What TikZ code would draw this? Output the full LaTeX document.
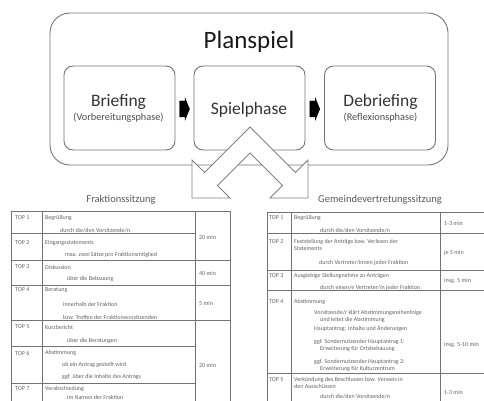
\documentclass[tikz,border=0pt]{standalone}
\usepackage{fontspec}
\setmainfont{Carlito}
\usetikzlibrary{calc}
\begin{document}
\begin{tikzpicture}[x=1pt,y=-1pt,
  outerbox/.style={draw=black!55, line width=0.9pt, rounded corners=20pt},
  phasebox/.style={draw=black!55, line width=0.9pt, rounded corners=9pt, minimum width=111pt, minimum height=84pt, inner sep=0pt},
  blockarrow/.style={fill=black, draw=black, line width=0.4pt, line join=miter},
  bigarrow/.style={draw=black!50, line width=0.8pt, fill=white, line join=miter},
  tline/.style={draw=black!55, line width=0.6pt},
  tt/.style={anchor=west, inner sep=0pt, font=\fontsize{6}{7}\selectfont, text=black!62, align=left},
  tcap/.style={inner sep=0pt, font=\fontsize{10.5}{12}\selectfont, text=black!65},
  phasetitle/.style={inner sep=0pt, font=\fontsize{17.5}{20}\selectfont, text=black!80},
  phasesub/.style={inner sep=0pt, font=\fontsize{10.3}{12}\selectfont, text=black!70}
]
\useasboundingbox (0,0) rectangle (484,401);
\clip (0,0) rectangle (484,401);

% top part
\draw[outerbox] (50,13) rectangle (448,165);
\node[inner sep=0pt, font=\fontsize{25}{28}\selectfont, text=black!90] (title) at (249,42) {Planspiel};

\node[phasebox] (brief) at (119.5,108) {};
\node[phasebox] (spiel) at (249.5,108) {};
\node[phasebox] (debrief) at (380,108) {};

\node[phasetitle] (brieft) at (118.5,102) {Briefing};
\node[phasesub] (briefs) at (118.5,118) {(Vorbereitungsphase)};
\node[phasetitle] (spielt) at (249,110) {Spielphase};
\node[phasetitle] (debrieft) at (380.5,102) {Debriefing};
\node[phasesub] (debriefs) at (380.5,118) {(Reflexionsphase)};

\coordinate (m1) at ($(brief.east)!0.5!(spiel.west)+(0,1)$);
\coordinate (m2) at ($(spiel.east)!0.5!(debrief.west)+(0,1)$);
\foreach \m in {m1,m2}{
  \draw[blockarrow] ($(\m)+(-5,-8)$) -- ($(\m)+(0.5,-8)$) -- ($(\m)+(0.5,-11)$)
    -- ($(\m)+(5,0)$) -- ($(\m)+(0.5,11)$) -- ($(\m)+(0.5,8)$) -- ($(\m)+(-5,8)$) -- cycle;
}

% double arrow
\draw[bigarrow] (250,127) -- (204.5,172.5) -- (192,160) -- (192,198) -- (230,198)
  -- (217.5,185.5) -- (250,153) -- (282.5,185.5) -- (270,198) -- (308,198)
  -- (308,160) -- (295.5,172.5) -- cycle;

% captions
\node[tcap] (capL) at (121,200) {Fraktionssitzung};
\node[tcap] (capR) at (380,200) {Gemeindevertretungssitzung};

% left table lines
\draw[tline] (11,401) -- (11,211) -- (230,211) -- (230,401);
\draw[tline] (42,211) -- (42,401);
\draw[tline] (195,211) -- (195,401);
\draw[tline] (11,233) -- (195,233);
\draw[tline] (11,260) -- (230,260);
\draw[tline] (11,285) -- (230,285);
\draw[tline] (11,320) -- (230,320);
\draw[tline] (11,346) -- (195,346);
\draw[tline] (11,383) -- (195,383);

% left table text
\node[tt] (l1a) at (15,218) {TOP 1};
\node[tt] (l1b) at (45,218) {Begrüßung};
\node[tt] (l1c) at (60,231) {durch die/den Vorsitzende/n};
\node[tt] (l2a) at (15,243) {TOP 2};
\node[tt] (l2b) at (45,243) {Eingangsstatements};
\node[tt] (l2c) at (65,255) {max. zwei Sätze pro Fraktionsmitglied};
\node[tt] (l3a) at (15,267) {TOP 3};
\node[tt] (l3b) at (45,267) {Diskussion};
\node[tt] (l3c) at (67,279) {über die Bebauung};
\node[tt] (l4a) at (15,290) {TOP 4};
\node[tt] (l4b) at (45,290) {Beratung};
\node[tt] (l4c) at (63,304) {innerhalb der Fraktion};
\node[tt] (l4d) at (63,317) {bzw. Treffen der Fraktionsvorsitzenden};
\node[tt] (l5a) at (15,327) {TOP 5};
\node[tt] (l5b) at (45,327) {Kurzbericht};
\node[tt] (l5c) at (67,341) {über die Beratungen};
\node[tt] (l6a) at (15,353) {TOP 6};
\node[tt] (l6b) at (45,353) {Abstimmung};
\node[tt] (l6c) at (62,365) {ob ein Antrag gestellt wird};
\node[tt] (l6d) at (62,377) {ggf. über die Inhalte des Antrags};
\node[tt] (l7a) at (15,389) {TOP 7};
\node[tt] (l7b) at (45,389) {Verabschiedung};
\node[tt] (l7c) at (67,397) {im Namen der Fraktion};
\node[tt] (lt1) at (199,237) {20 min};
\node[tt] (lt2) at (199,273) {40 min};
\node[tt] (lt3) at (199,303) {5 min};
\node[tt] (lt4) at (199,365) {20 min};

% right table lines
\draw[tline] (267,401) -- (267,212) -- (490,212);
\draw[tline] (291,212) -- (291,401);
\draw[tline] (440,212) -- (440,401);
\draw[tline] (267,233) -- (490,233);
\draw[tline] (267,270) -- (490,270);
\draw[tline] (267,290) -- (490,290);
\draw[tline] (267,373) -- (490,373);

% right table text
\node[tt] (r1a) at (269,218) {TOP 1};
\node[tt] (r1b) at (294,218) {Begrüßung};
\node[tt] (r1c) at (320,231) {durch die/den Vorsitzende/n};
\node[tt] (r2a) at (269,242) {TOP 2};
\node[tt, anchor=north west] (r2b) at (294,239) {Feststellung der Anträge bzw. Verlesen der\\Statements};
\node[tt] (r2c) at (319,263) {durch Vertreter/innen jeder Fraktion};
\node[tt] (r3a) at (269,276) {TOP 3};
\node[tt] (r3b) at (294,276) {Ausgiebige Stellungnahme zu Anträgen};
\node[tt] (r3c) at (320,288) {durch einen/e Vertreter/in jeder Fraktion};
\node[tt] (r4a) at (269,302) {TOP 4};
\node[tt] (r4b) at (294,302) {Abstimmung};
\node[tt, anchor=north west] (r4c) at (314,310) {Vorsitzende/r klärt Abstimmungsreihenfolge\\\hspace*{6pt}und leitet die Abstimmung};
\node[tt] (r4d) at (314,329) {Hauptantrag: Inhalte und Änderungen};
\node[tt, anchor=north west] (r4e) at (314,339) {ggf. Sondernutzender Hauptantrag 1:\\\hspace*{6pt}Erweiterung für Ortsbebauung};
\node[tt, anchor=north west] (r4f) at (314,359) {ggf. Sondernutzender Hauptantrag 2:\\\hspace*{6pt}Erweiterung für Kulturzentrum};
\node[tt] (r5a) at (269,380) {TOP 5};
\node[tt, anchor=north west] (r5b) at (294,377) {Verkündung des Beschlusses bzw. Verweis in\\den Ausschüssen};
\node[tt] (r5c) at (320,397) {durch die/den Vorsitzende/n};
\node[tt] (rt1) at (444,223) {1-3 min};
\node[tt] (rt2) at (444,253) {je 5 min};
\node[tt] (rt3) at (444,281) {insg. 5 min};
\node[tt] (rt4) at (444,345) {insg. 5-10 min};
\node[tt] (rt5) at (444,392) {1-3 min};
\end{tikzpicture}
\end{document}
